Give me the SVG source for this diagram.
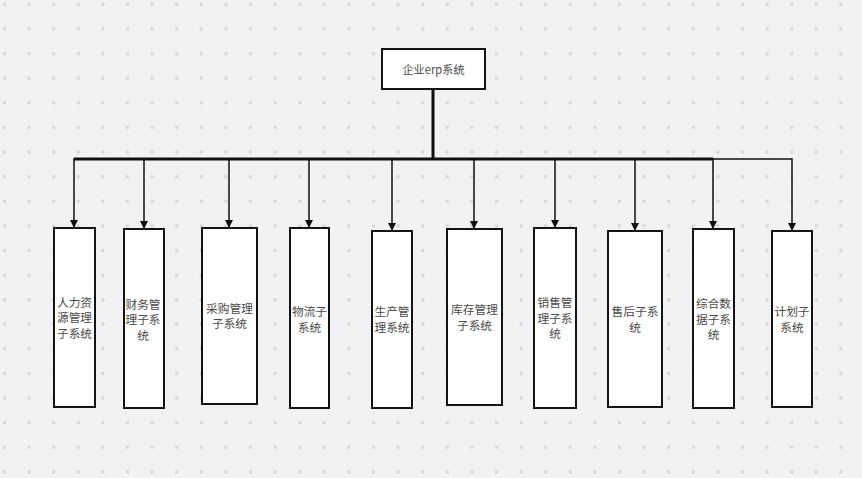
<svg xmlns="http://www.w3.org/2000/svg" width="862" height="478" viewBox="0 0 862 478">
<defs>
<pattern id="dots" x="0" y="0" width="24.6" height="24.6" patternUnits="userSpaceOnUse">
<rect x="3" y="3" width="3" height="3" fill="#d6d6d8"/>
</pattern>
<marker id="arrow" markerUnits="userSpaceOnUse" markerWidth="9" markerHeight="9" refX="8" refY="4" orient="auto">
<path d="M0,0 L8,4 L0,8 Z" fill="#111"/>
</marker>
<style>
.node rect{fill:#ffffff;stroke:#141414;stroke-width:2}
.node text{font-family:"Noto Sans CJK SC","Noto Sans",sans-serif;font-size:11.7px;fill:#4a4a4a;text-anchor:middle}
#root text{font-size:11.2px}
.edge{fill:none;stroke:#111;stroke-width:1.5;marker-end:url(#arrow)}
.trunk{fill:none;stroke:#111;stroke-width:3}
</style>
</defs>
<rect width="862" height="478" fill="#f2f2f4"/>
<rect width="862" height="478" fill="url(#dots)"/>

<g id="connectors">
<path class="trunk" d="M433,89 V159"/>
<path class="trunk" d="M74,159 H713"/>
<path class="edge" d="M433,89 V159 H74 V228"/>
<path class="edge" d="M433,89 V159 H144 V229"/>
<path class="edge" d="M433,89 V159 H229 V228"/>
<path class="edge" d="M433,89 V159 H309 V228"/>
<path class="edge" d="M433,89 V159 H392 V231"/>
<path class="edge" d="M433,89 V159 H474 V229"/>
<path class="edge" d="M433,89 V159 H555 V228"/>
<path class="edge" d="M433,89 V159 H635 V231"/>
<path class="edge" d="M433,89 V159 H713 V229"/>
<path class="edge" d="M433,89 V159 H792 V231"/>
</g>

<g id="root" class="node">
<rect x="382" y="49" width="103" height="40"/>
<text x="433.5" y="73.5">企业erp系统</text>
</g>

<g id="hr" class="node">
<rect x="54" y="228" width="41" height="179"/>
<text x="74.5" y="306.5">人力资</text>
<text x="74.5" y="322">源管理</text>
<text x="74.5" y="337.5">子系统</text>
</g>

<g id="finance" class="node">
<rect x="124" y="229" width="40" height="179"/>
<text x="143" y="308.5">财务管</text>
<text x="143" y="324">理子系</text>
<text x="143" y="339.5">统</text>
</g>

<g id="purchase" class="node">
<rect x="202" y="228" width="55" height="176"/>
<text x="229.5" y="312.5">采购管理</text>
<text x="229.5" y="328">子系统</text>
</g>

<g id="logistics" class="node">
<rect x="290" y="228" width="39" height="180"/>
<text x="309.5" y="316">物流子</text>
<text x="309.5" y="331.5">系统</text>
</g>

<g id="production" class="node">
<rect x="372" y="231" width="40" height="177"/>
<text x="392" y="316">生产管</text>
<text x="392" y="331.5">理系统</text>
</g>

<g id="inventory" class="node">
<rect x="447" y="229" width="55" height="176"/>
<text x="474.5" y="314">库存管理</text>
<text x="474.5" y="329.5">子系统</text>
</g>

<g id="sales" class="node">
<rect x="534" y="228" width="42" height="180"/>
<text x="555" y="307">销售管</text>
<text x="555" y="322.5">理子系</text>
<text x="555" y="338">统</text>
</g>

<g id="aftersales" class="node">
<rect x="608" y="231" width="54" height="176"/>
<text x="635" y="316">售后子系</text>
<text x="635" y="331.5">统</text>
</g>

<g id="data" class="node">
<rect x="693" y="229" width="41" height="179"/>
<text x="713.5" y="308">综合数</text>
<text x="713.5" y="323.5">据子系</text>
<text x="713.5" y="339">统</text>
</g>

<g id="plan" class="node">
<rect x="772" y="231" width="40" height="176"/>
<text x="792" y="316">计划子</text>
<text x="792" y="331.5">系统</text>
</g>
</svg>
